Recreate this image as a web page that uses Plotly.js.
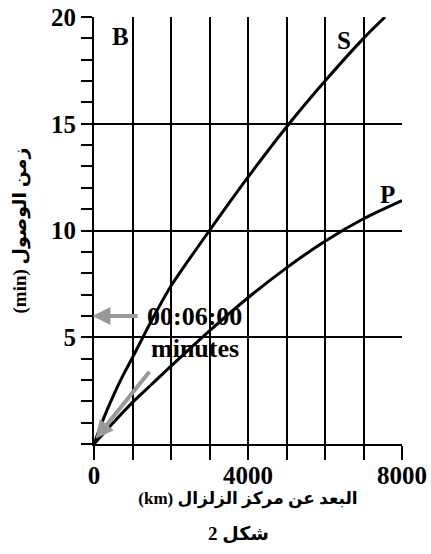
<!DOCTYPE html>
<html>
<head>
<meta charset="utf-8">
<script src="https://cdn.plot.ly/plotly-3.0.1.min.js"></script>
<style>html,body{margin:0;padding:0;background:#fff;}</style>
</head>
<body>
<div id="chart" style="width:431px;height:554px;"></div>
<script>
// Distance from epicentre (km) and arrival time (min)
const sDistance = [0, 250, 500, 750, 1000, 1500, 2000, 3000, 4000, 5000, 6000, 7000, 7560];
const sTime     = [0, 1.2, 2.25, 3.2, 4.05, 5.8, 7.4, 10.0, 12.5, 14.85, 17.0, 19.0, 20.0];
const pDistance = [0, 250, 500, 1000, 1500, 2000, 3000, 4000, 5000, 6000, 7000, 8000];
const pTime     = [0, 0.5, 1.0, 1.95, 2.8, 3.65, 5.3, 6.85, 8.25, 9.5, 10.55, 11.4];

const xTickVals = [0, 1000, 2000, 3000, 4000, 5000, 6000, 7000, 8000];
const xTickText = ['0', '', '', '', '4000', '', '', '', '8000'];
const yTickVals = [0, 5, 10, 15, 20];
const yTickText = ['', '5', '10', '15', '20'];

const xTitle = '(km) البعد عن مركز الزلزال';
const yTitle = '(min) زمن الوصول';
const figCaption = '2 شكل';
const curveLabels = ['B', 'S', 'P'];
const markedTime = 6;
const markedText = ['00:06:00', 'minutes'];

const serif = "Liberation Serif, DejaVu Sans, serif";

const lineStyle = {color: '#000', width: 3, shape: 'spline', smoothing: 0.8};
const data = [
  {x: sDistance, y: sTime, mode: 'lines', line: lineStyle, hoverinfo: 'skip', showlegend: false},
  {x: pDistance, y: pTime, mode: 'lines', line: lineStyle, hoverinfo: 'skip', showlegend: false}
];

const txt = (t, x, y, size) => ({text: t, x: x, y: y, xref: 'x', yref: 'y', showarrow: false,
  font: {family: serif, size: size, color: '#000', weight: 'bold'}});

const annotations = [
  txt(curveLabels[0], 680, 19.1, 25),
  txt(curveLabels[1], 6500, 18.9, 25),
  txt(curveLabels[2], 7620, 11.7, 25),
  txt(markedText[0], 2600, 5.95, 26),
  txt(markedText[1], 2620, 4.45, 26),
  {x: -40, y: markedTime, ax: 1170, ay: markedTime, xref: 'x', yref: 'y', axref: 'x', ayref: 'y',
   text: '', showarrow: true, arrowhead: 2, arrowsize: 0.9, arrowwidth: 4, arrowcolor: '#999999'},
  {x: 40, y: 0.25, ax: 1470, ay: 3.45, xref: 'x', yref: 'y', axref: 'x', ayref: 'y',
   text: '', showarrow: true, arrowhead: 2, arrowsize: 0.9, arrowwidth: 4, arrowcolor: '#999999'},
  {text: figCaption, xref: 'paper', yref: 'paper', x: 0.47, y: -0.21, yanchor: 'middle', showarrow: false,
   font: {family: serif, size: 19, color: '#000', weight: 'bold'}}
];

const layout = {
  width: 431, height: 554,
  margin: {l: 94, r: 29, t: 17, b: 110},
  paper_bgcolor: '#fff', plot_bgcolor: '#fff',
  showlegend: false,
  font: {family: serif, color: '#000', weight: 'bold'},
  xaxis: {
    range: [0, 8000], tickvals: xTickVals, ticktext: xTickText,
    ticks: 'outside', ticklen: 14, tickwidth: 2, tickcolor: '#000',
    ticklabelstandoff: -6,
    showgrid: true, gridcolor: '#000', gridwidth: 2,
    showline: true, linecolor: '#000', linewidth: 2, zeroline: false,
    tickfont: {family: serif, size: 25, color: '#000', weight: 'bold'},
    title: {text: xTitle, standoff: 2, font: {family: serif, size: 17, color: '#000', weight: 'bold'}},
    fixedrange: true
  },
  yaxis: {
    range: [0, 20], tickvals: yTickVals, ticktext: yTickText,
    ticks: 'outside', ticklen: 11, tickwidth: 2, tickcolor: '#000',
    minor: {dtick: 1, tick0: 0, ticks: 'outside', ticklen: 11, tickwidth: 2, tickcolor: '#000', showgrid: false},
    showgrid: true, gridcolor: '#000', gridwidth: 2,
    showline: true, linecolor: '#000', linewidth: 2, zeroline: false,
    tickfont: {family: serif, size: 25, color: '#000', weight: 'bold'},
    title: {text: yTitle, standoff: 19, font: {family: serif, size: 19, color: '#000', weight: 'bold'}},
    fixedrange: true
  },
  annotations: annotations
};

Plotly.newPlot('chart', data, layout, {displayModeBar: false, staticPlot: true});
</script>
</body>
</html>
